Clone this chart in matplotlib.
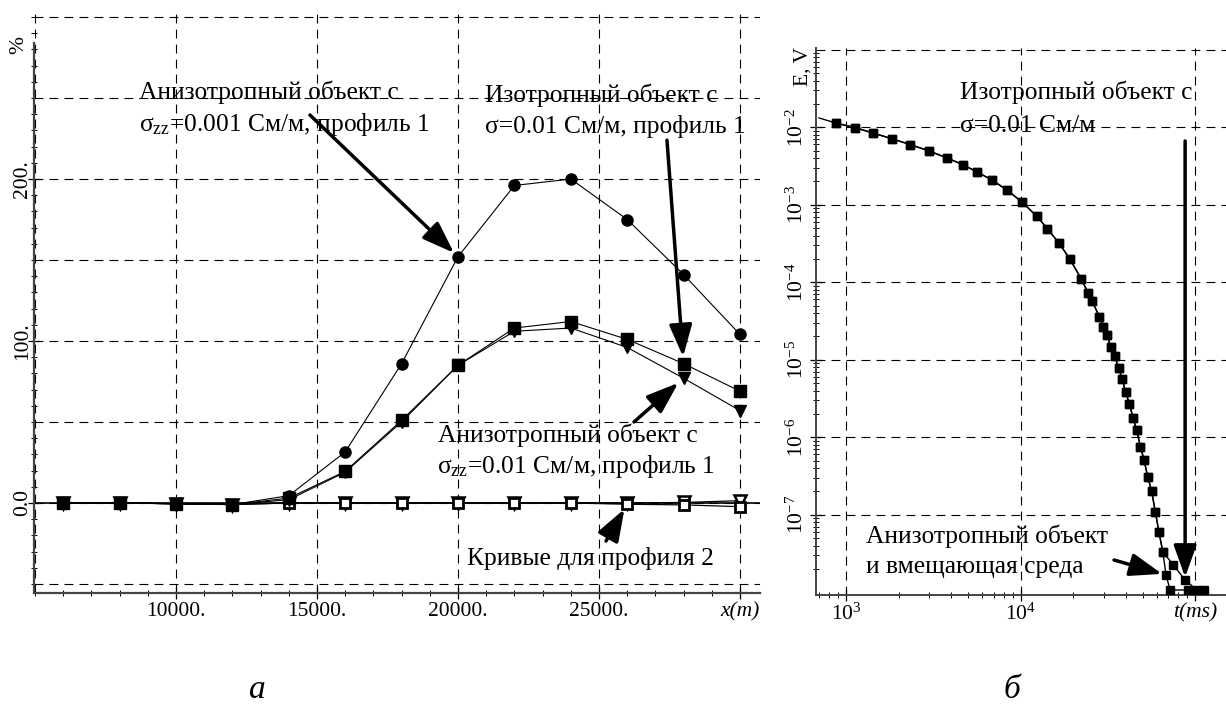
import numpy as np
import matplotlib
matplotlib.use('Agg')
from matplotlib import pyplot as plt
from matplotlib.ticker import MultipleLocator, NullFormatter

plt.rcParams['font.family'] = ['Liberation Serif', 'DejaVu Serif']
plt.rcParams['mathtext.fontset'] = 'custom'
plt.rcParams['mathtext.rm'] = 'Liberation Serif'
plt.rcParams['mathtext.it'] = 'Liberation Serif:italic'
FS = 15.5      # tick labels
FS_T = 18.4    # annotation text

# ---- panel a: anomaly along profile, %
x_m = [6000, 8000, 10000, 12000, 14000, 16000, 18000, 20000, 22000, 24000, 26000, 28000, 30000]
aniso_001 = [0, 0, -0.5, -1, 4.5, 31.5, 86, 152, 196, 200, 175, 141, 104]
iso_01 = [0, 0, -0.5, -1, 3, 19.5, 51, 85, 108, 112, 101, 86, 69]
aniso_01 = [0, 0, -0.5, -1, 2, 19, 50, 85, 106, 108, 96, 77, 57]
prof2_sq = [0, 0, -0.5, -1, 0, 0, 0, 0, 0, 0, -0.8, -1.2, -2.3]
prof2_tri = [0, 0, -0.5, -1, 0, 0, 0, 0, 0, 0, 0, 0.3, 1.4]

x_ticks = [10000, 15000, 20000, 25000, 30000]
x_labels = ['10000.', '15000.', '20000.', '25000.', 'x(m)']
y_ticks = [0, 100, 200]
y_labels = ['0.0', '100.', '200.']

# ---- panel b: transient E(t)
t_line0 = 700
E_line0 = 1.32e-2
t_common = [877, 1126, 1433, 1832, 2334, 2985, 3802, 4656, 5623, 6887, 8357, 10140,
            12360, 14220, 16600, 19150, 22150, 24400, 25600, 28200, 29700, 31200,
            32700, 34500, 36300, 38100, 39900, 41900, 44000, 46100, 48400, 50800,
            53300, 56200, 58900, 61800, 65000]
E_common = [1.13e-2, 9.9e-3, 8.4e-3, 7.1e-3, 5.97e-3, 4.95e-3, 4.0e-3, 3.3e-3, 2.65e-3,
            2.07e-3, 1.54e-3, 1.09e-3, 7.1e-4, 4.9e-4, 3.18e-4, 1.98e-4, 1.11e-4, 7.2e-5,
            5.7e-5, 3.6e-5, 2.67e-5, 2.09e-5, 1.48e-5, 1.12e-5, 7.9e-6, 5.6e-6, 3.8e-6,
            2.7e-6, 1.76e-6, 1.24e-6, 7.6e-7, 5.1e-7, 3.1e-7, 2.0e-7, 1.1e-7, 6.05e-8, 3.34e-8]
t_aniso_tail = [67900, 71600, 90800]
E_aniso_tail = [1.67e-8, 1.07e-8, 1.07e-8]
t_iso_tail = [74800, 87300, 102000, 112000]
E_iso_tail = [2.25e-8, 1.44e-8, 1.07e-8, 1.07e-8]

W, H = 1226, 713
fig = plt.figure(figsize=(W / 100, H / 100), dpi=100)

grid_kw = dict(color='k', lw=0.8, ls=(0, (8, 5.5)), zorder=0)
spine_color = '#444444'
arrow_kw = dict(arrowstyle='-|>,head_length=1.4,head_width=0.5', lw=2.5, color='k',
                mutation_scale=14, shrinkA=0)

# ================= panel a
ax1 = fig.add_axes([34 / W, 1 - 593 / H, 726 / W, (593 - 13.8) / H])
ax1.set_xlim(4965, 30709)
ax1.set_ylim(-55.6, 302)
for gx in range(5000, 30001, 5000):
    ax1.axvline(gx, **grid_kw)
for gy in range(-50, 301, 50):
    ax1.axhline(gy, **grid_kw)
ax1.axhline(0, color='k', lw=1.2, zorder=1)

ax1.plot(x_m, prof2_tri, color='k', lw=0.9, marker='v', ms=8, mfc='white', mec='k', mew=1.8, zorder=2)
ax1.plot(x_m, prof2_sq, color='k', lw=0.9, marker='s', ms=7, mfc='white', mec='k', mew=2, zorder=2)
ax1.plot(x_m, aniso_01, color='k', lw=0.8, marker='v', ms=9, zorder=3)
ax1.plot(x_m, iso_01, color='k', lw=0.8, marker='s', ms=8, zorder=3)
ax1.plot(x_m, aniso_001, color='k', lw=0.8, marker='o', ms=8, zorder=3)

for s in ['top', 'right']:
    ax1.spines[s].set_visible(False)
for s in ['left', 'bottom']:
    ax1.spines[s].set_color(spine_color)
    ax1.spines[s].set_linewidth(1.6)
ax1.spines['left'].set_bounds(-55.6, 284)

ax1.set_xticks(x_ticks)
ax1.set_xticklabels(x_labels, fontsize=FS)
ax1.get_xticklabels()[-1].set_style('italic')
ax1.set_yticks(y_ticks)
ax1.set_yticklabels(y_labels, fontsize=FS, rotation=90, va='center')
ax1.xaxis.set_minor_locator(MultipleLocator(1000))
ax1.yaxis.set_minor_locator(MultipleLocator(10))
ax1.tick_params(which='major', direction='inout', length=9, width=0.9)
ax1.tick_params(axis='x', which='major', pad=2)
ax1.tick_params(axis='y', which='major', pad=-3)
ax1.tick_params(which='minor', direction='inout', length=4, width=0.7)
ax1.set_facecolor('none')

i20 = x_m.index(20000)
i26 = x_m.index(26000)
i28 = x_m.index(28000)
ax1.annotate('', xy=(x_m[i20], aniso_001[i20]), xytext=(14750, 239.5), arrowprops=dict(shrinkB=4, **arrow_kw))
ax1.annotate('', xy=(x_m[i28], iso_01[i28]), xytext=(27410, 224), arrowprops=dict(shrinkB=5, **arrow_kw))
ax1.annotate('', xy=(x_m[i28], aniso_01[i28]), xytext=(26240, 50), arrowprops=dict(shrinkB=5, **arrow_kw))
ax1.annotate('', xy=(x_m[i26], prof2_sq[i26]), xytext=(25250, -23.5), arrowprops=dict(shrinkB=4, **arrow_kw))

# ================= panel b
ax2 = fig.add_axes([816 / W, 1 - 595 / H, 410 / W, (595 - 48.2) / H])
ax2.set_xscale('log')
ax2.set_yscale('log')
ax2.set_xlim(10 ** 2.828, 10 ** 5.175)
ax2.set_ylim(10 ** -8.035, 10 ** -0.98)
for gx in [1e3, 1e4, 1e5]:
    ax2.axvline(gx, **grid_kw)
for p in range(-7, 0):
    ax2.axhline(10.0 ** p, **grid_kw)

t_iso = t_common + t_iso_tail
E_iso = E_common + E_iso_tail
t_an = t_common + t_aniso_tail
E_an = E_common + E_aniso_tail
ax2.plot([t_line0] + t_iso, [E_line0] + E_iso, color='k', lw=1, marker='s', ms=6,
         markevery=list(range(1, len(t_iso) + 1)), zorder=3)
ax2.plot(t_an, E_an, color='k', lw=1, marker='s', ms=6, zorder=3)

for s in ['top', 'right']:
    ax2.spines[s].set_visible(False)
for s in ['left', 'bottom']:
    ax2.spines[s].set_color(spine_color)
    ax2.spines[s].set_linewidth(1.4)

ax2.set_xticks([1e3, 1e4, 1e5])
ax2.set_xticklabels([r'$\mathregular{10^{3}}$', r'$\mathregular{10^{4}}$', 't(ms)'], fontsize=FS)
ax2.get_xticklabels()[-1].set_style('italic')
ax2.set_yticks([10.0 ** p for p in range(-7, -1)])
ax2.set_yticklabels([r'$\mathregular{10^{-%d}}$' % -p for p in range(-7, -1)],
                    fontsize=FS, rotation=90, va='center')
ax2.xaxis.set_minor_formatter(NullFormatter())
ax2.yaxis.set_minor_formatter(NullFormatter())
ax2.tick_params(which='major', direction='inout', length=8, width=0.9, pad=2)
ax2.tick_params(which='minor', direction='inout', length=4, width=0.7)
ax2.set_facecolor('none')

ax2.annotate('', xy=(t_iso_tail[1], E_iso_tail[1]), xytext=(t_iso_tail[1], 6.65e-3),
             arrowprops=dict(shrinkB=2, **arrow_kw))
ax2.annotate('', xy=(t_aniso_tail[0], E_aniso_tail[0]), xytext=(34200, 2.61e-8),
             arrowprops=dict(shrinkB=3, **arrow_kw))

# ================= annotations (text)
def ftext(px, py, s, **kw):
    fig.text(px / W, 1 - py / H, s, fontsize=FS_T, va='center', **kw)

ftext(139, 92, 'Анизотропный объект с')
ftext(139, 124, r'σ$_{\mathregular{zz}}$=0.001 См/м, профиль 1')
ftext(485, 95, 'Изотропный объект с')
ftext(485, 127, 'σ=0.01 См/м, профиль 1')
ftext(438, 435, 'Анизотропный объект с')
ftext(437, 467, r'σ$_{\mathregular{zz}}$=0.01 См/м, профиль 1')
ftext(467, 558, 'Кривые для профиля 2')
ftext(960, 92, 'Изотропный объект с')
ftext(960, 126, 'σ=0.01 См/м')
ftext(866, 536, 'Анизотропный объект')
ftext(866, 567, 'и вмещающая среда')

fig.text(19 / W, 1 - 45 / H, '%', fontsize=FS, rotation=90, ha='center', va='center')
fig.text(803 / W, 1 - 66 / H, 'E, V', fontsize=FS, rotation=90, ha='center', va='center')
fig.text(257 / W, 1 - 690 / H, 'а', fontsize=24, style='italic', ha='center', va='center')
fig.text(1012 / W, 1 - 690 / H, 'б', fontsize=24, style='italic', ha='center', va='center')

fig.savefig('out.png', dpi=100, facecolor='white')
